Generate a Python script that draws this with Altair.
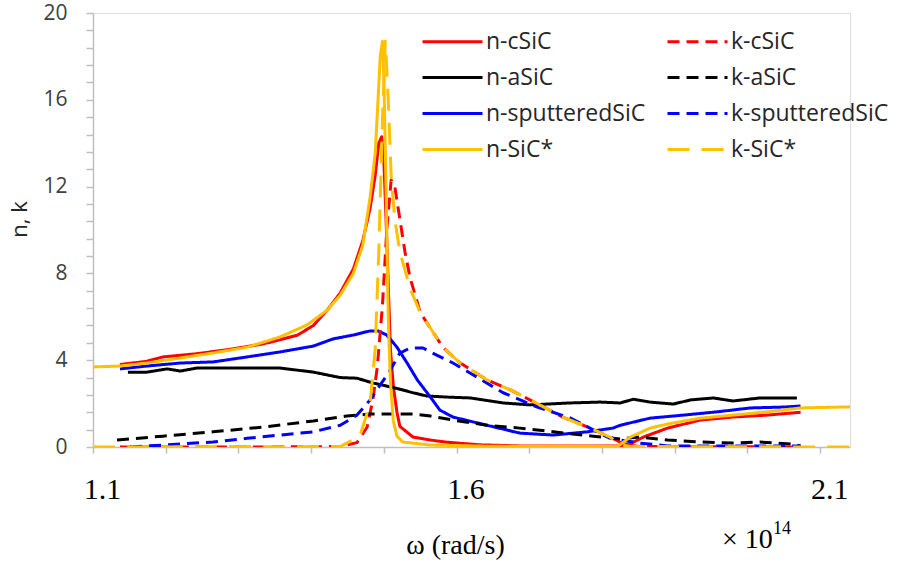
import altair as alt
import pandas as pd

# ---- data (omega in 1e14 rad/s, values of n or k) ----
ncsic_w = [1.137, 1.174, 1.196, 1.243, 1.288, 1.334, 1.381, 1.403, 1.422, 1.440, 1.458, 1.471, 1.481, 1.488, 1.493, 1.497, 1.500, 1.503, 1.506, 1.509, 1.513, 1.518, 1.522, 1.540, 1.564, 1.587, 1.632, 1.687, 1.797, 1.825, 1.839, 1.857, 1.890, 1.935, 1.980, 2.027, 2.073]
ncsic_v = [3.80, 3.95, 4.15, 4.30, 4.50, 4.75, 5.15, 5.60, 6.30, 7.10, 8.20, 9.50, 11.0, 12.5, 14.0, 14.3, 13.2, 10.5, 7.5, 4.5, 2.8, 1.6, 0.95, 0.46, 0.32, 0.22, 0.10, 0.05, 0.05, 0.05, 0.15, 0.46, 0.87, 1.24, 1.38, 1.47, 1.60]

nasic_w = [1.148, 1.174, 1.202, 1.220, 1.243, 1.312, 1.357, 1.403, 1.440, 1.463, 1.485, 1.518, 1.540, 1.559, 1.587, 1.619, 1.664, 1.701, 1.756, 1.797, 1.825, 1.843, 1.866, 1.898, 1.922, 1.953, 1.980, 2.017, 2.068]
nasic_v = [3.45, 3.45, 3.60, 3.50, 3.64, 3.64, 3.64, 3.45, 3.20, 3.17, 2.95, 2.70, 2.50, 2.35, 2.30, 2.26, 2.03, 1.94, 2.03, 2.07, 2.03, 2.20, 2.07, 1.98, 2.17, 2.26, 2.12, 2.26, 2.26]

nsput_w = [1.137, 1.174, 1.220, 1.265, 1.312, 1.357, 1.403, 1.430, 1.458, 1.481, 1.492, 1.504, 1.518, 1.532, 1.546, 1.564, 1.577, 1.595, 1.642, 1.687, 1.733, 1.780, 1.815, 1.825, 1.866, 1.912, 1.958, 2.004, 2.049, 2.073]
nsput_v = [3.60, 3.73, 3.87, 3.92, 4.15, 4.38, 4.65, 4.98, 5.16, 5.35, 5.35, 5.16, 4.60, 3.87, 3.09, 2.30, 1.70, 1.38, 1.00, 0.64, 0.55, 0.70, 0.87, 1.00, 1.33, 1.47, 1.62, 1.80, 1.84, 1.89]

nstar_w = [1.100, 1.137, 1.174, 1.220, 1.265, 1.312, 1.357, 1.394, 1.422, 1.440, 1.458, 1.471, 1.481, 1.488, 1.492, 1.495, 1.498, 1.500, 1.503, 1.506, 1.509, 1.513, 1.518, 1.526, 1.564, 1.650, 1.800, 1.821, 1.839, 1.866, 1.890, 1.935, 1.980, 2.027, 2.073, 2.141]
nstar_v = [3.69, 3.73, 3.87, 4.10, 4.33, 4.60, 5.07, 5.62, 6.30, 7.00, 8.00, 9.30, 11.5, 13.5, 16.0, 18.0, 18.7, 17.0, 12.0, 6.0, 3.0, 1.2, 0.5, 0.23, 0.09, 0.03, 0.03, 0.02, 0.46, 0.87, 1.06, 1.33, 1.47, 1.62, 1.80, 1.85]

kcsic_w = [1.137, 1.300, 1.440, 1.463, 1.477, 1.485, 1.491, 1.498, 1.504, 1.510, 1.515, 1.522, 1.529, 1.536, 1.550, 1.581, 1.605, 1.642, 1.674, 1.711, 1.746, 1.780, 1.811, 1.832, 1.852, 2.073]
kcsic_v = [0.0, 0.0, 0.02, 0.2, 0.92, 2.2, 3.7, 6.5, 10.0, 12.3, 12.0, 10.5, 9.0, 7.8, 6.2, 4.6, 3.87, 3.09, 2.63, 2.0, 1.38, 0.92, 0.46, 0.1, 0.02, 0.0]

kasic_w = [1.133, 1.196, 1.265, 1.334, 1.403, 1.449, 1.481, 1.540, 1.564, 1.595, 1.642, 1.687, 1.733, 1.788, 1.825, 1.852, 1.890, 1.935, 1.980, 2.017, 2.059, 2.073]
kasic_v = [0.32, 0.50, 0.70, 0.92, 1.20, 1.43, 1.52, 1.52, 1.43, 1.24, 1.00, 0.87, 0.70, 0.50, 0.37, 0.46, 0.32, 0.23, 0.18, 0.23, 0.14, 0.05]

ksput_w = [1.151, 1.196, 1.265, 1.312, 1.357, 1.403, 1.440, 1.463, 1.481, 1.495, 1.509, 1.522, 1.536, 1.554, 1.564, 1.595, 1.619, 1.664, 1.711, 1.756, 1.807, 1.825, 1.852, 1.890, 2.073]
ksput_v = [0.0, 0.09, 0.23, 0.40, 0.55, 0.70, 1.00, 1.47, 2.17, 2.86, 3.55, 4.33, 4.56, 4.56, 4.38, 3.87, 3.40, 2.50, 1.84, 1.34, 0.46, 0.32, 0.18, 0.05, 0.05]

kstar_w = [1.100, 1.440, 1.467, 1.481, 1.488, 1.493, 1.498, 1.502, 1.506, 1.510, 1.515, 1.522, 1.536, 1.550, 1.581, 1.605, 1.642, 1.674, 1.711, 1.746, 1.780, 1.811, 1.825, 1.839, 2.141]
kstar_v = [0.0, 0.02, 0.5, 2.0, 4.5, 9.0, 15.0, 18.7, 16.0, 12.5, 10.5, 9.0, 7.3, 6.2, 4.6, 3.87, 3.09, 2.63, 2.0, 1.38, 0.92, 0.46, 0.1, 0.02, 0.0]

legend_order = ["n-cSiC", "k-cSiC", "n-aSiC", "k-aSiC", "n-sputteredSiC", "k-sputteredSiC", "n-SiC*", "k-SiC*"]
series_colors = ["#FF0000", "#FF0000", "#000000", "#000000", "#0000FF", "#0000FF", "#FFC000", "#FFC000"]
series_dashes = [[1, 0], [12, 7], [1, 0], [12, 7], [1, 0], [12, 7], [1, 0], [22, 12]]

draw_order = [
    ("n-cSiC", ncsic_w, ncsic_v),
    ("n-aSiC", nasic_w, nasic_v),
    ("n-sputteredSiC", nsput_w, nsput_v),
    ("k-cSiC", kcsic_w, kcsic_v),
    ("k-aSiC", kasic_w, kasic_v),
    ("k-sputteredSiC", ksput_w, ksput_v),
    ("n-SiC*", nstar_w, nstar_v),
    ("k-SiC*", kstar_w, kstar_v),
]

y_ticks = [round(i * 0.8, 1) for i in range(26)]
x_ticks = [round(1.1 + 0.1 * i, 1) for i in range(11)]

x_scale = alt.Scale(domain=[1.1, 2.141], nice=False, zero=False)
y_scale = alt.Scale(domain=[0, 20], nice=False)

x_axis = alt.Axis(
    values=x_ticks, grid=False, tickSize=6, tickColor="#BFBFBF", domainColor="#BFBFBF",
    domainWidth=1.5, tickWidth=1.5, labelFlush=False, labelOverlap=False,
    labelExpr="(abs(datum.value-1.1)<0.01 || abs(datum.value-1.6)<0.01 || abs(datum.value-2.1)<0.01) ? format(datum.value, '.1f') : ''",
    labelFont="Liberation Serif", labelFontSize=30, labelColor="#000000",
    labelPadding=36, labelBaseline="middle", labelOffset=9,
    title="ω (rad/s)", titleFont="Liberation Serif", titleFontSize=28, titleFontWeight="normal",
    titleColor="#000000", titleX=362, titleY=98, titleAlign="center", titleBaseline="middle",
    titleAnchor="start",
)
y_axis = alt.Axis(
    values=y_ticks, grid=False, tickSize=7, tickColor="#BFBFBF", domainColor="#BFBFBF",
    domainWidth=1.5, tickWidth=1.5, labelOverlap=False,
    labelExpr="(datum.value % 4 == 0) ? datum.label : ''",
    labelFont="Open Sans", labelFontSize=21, labelColor="#404040", labelPadding=19,
    title="n, k", titleFont="Open Sans", titleFontSize=22, titleFontWeight="normal",
    titleColor="#262626", titleX=-74, titleY=206, titleAlign="center", titleBaseline="middle",
    titleAngle=270,
)

legend = alt.Legend(
    orient="none", legendX=328, legendY=17, columns=2, title=None, direction="horizontal",
    symbolType="stroke", symbolSize=3600, symbolStrokeWidth=3, clipHeight=23,
    labelFont="Open Sans", labelFontSize=23, labelColor="#262626", labelOffset=2,
    rowPadding=12, columnPadding=20, padding=0, labelLimit=400,
)

layers = []
for name, ws, vs in draw_order:
    df = pd.DataFrame({"omega": ws, "value": vs, "series": [name] * len(ws)})
    layers.append(
        alt.Chart(df).mark_line(strokeWidth=3, strokeJoin="round", clip=True).encode(
            x=alt.X("omega:Q", scale=x_scale, axis=x_axis),
            y=alt.Y("value:Q", scale=y_scale, axis=y_axis),
            color=alt.Color("series:N", scale=alt.Scale(domain=legend_order, range=series_colors), legend=legend),
            strokeDash=alt.StrokeDash("series:N", scale=alt.Scale(domain=legend_order, range=series_dashes), legend=legend),
        )
    )

mult_text = pd.DataFrame({"t": ["× 10"]})
exp_text = pd.DataFrame({"t": ["14"]})
layers.append(
    alt.Chart(mult_text).mark_text(font="Liberation Serif", fontSize=28, align="left", baseline="middle", color="#000000")
    .encode(x=alt.value(629), y=alt.value(527), text="t:N")
)
layers.append(
    alt.Chart(exp_text).mark_text(font="Liberation Serif", fontSize=18, align="left", baseline="middle", color="#000000")
    .encode(x=alt.value(680), y=alt.value(516), text="t:N")
)

chart = alt.layer(*layers).properties(
    width=757, height=434,
    autosize=alt.AutoSizeParams(type="none"),
    padding={"left": 93, "top": 13, "right": 55, "bottom": 118},
).configure_view(stroke=None).configure(background="white")

chart.save("out.html", embed_options={"renderer": "svg", "actions": False})
